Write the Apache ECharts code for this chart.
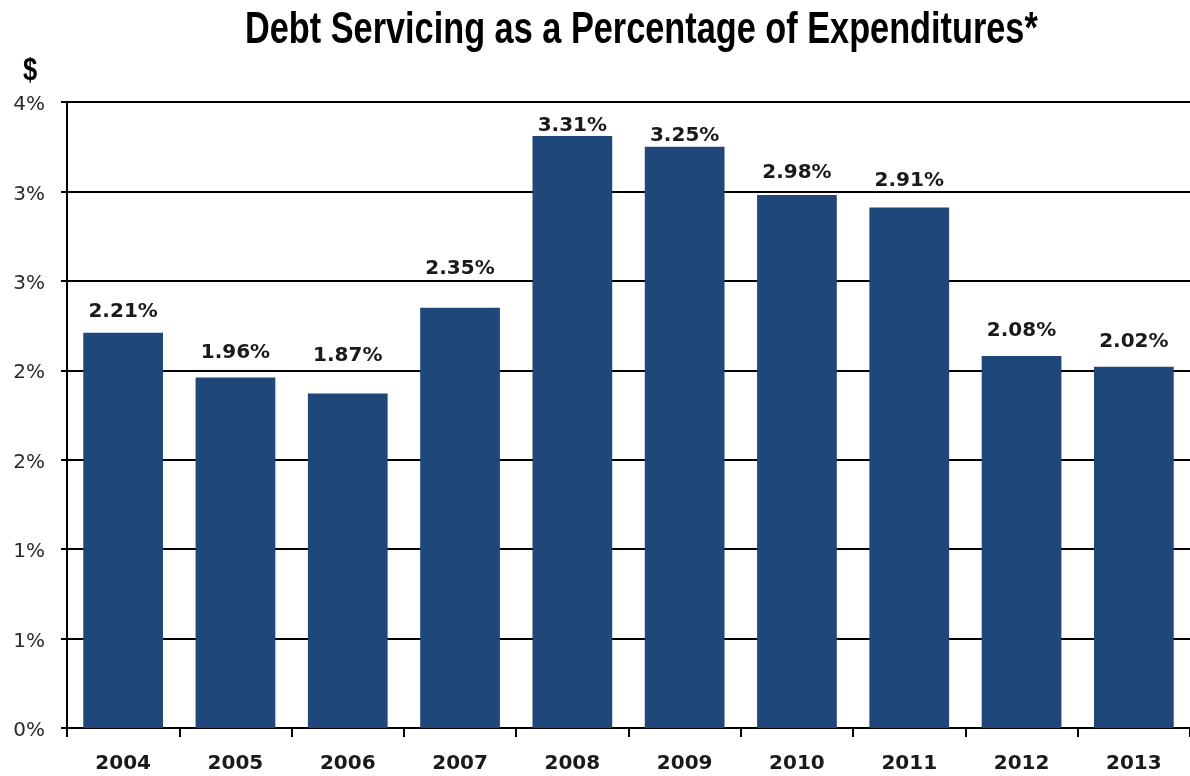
<!DOCTYPE html>
<html>
<head>
<meta charset="utf-8">
<script src="https://cdn.jsdelivr.net/npm/echarts@6/dist/echarts.min.js"></script>
<style>
  html, body { margin: 0; padding: 0; background: #ffffff; }
  #chart { width: 1190px; height: 776px; }
</style>
</head>
<body>
<div id="chart"></div>
<script>
// Fiscal years shown along the bottom
const years = ['2004', '2005', '2006', '2007', '2008', '2009', '2010', '2011', '2012', '2013'];
// Debt servicing share of total expenditures, in percent
const debtServicingPct = [2.21, 1.96, 1.87, 2.35, 3.31, 3.25, 2.98, 2.91, 2.08, 2.02];
// Value axis range and step (percent)
const yMin = 0;
const yMax = 3.5;
const yStep = 0.5;

// Hand-tuned gap (px) between each bar top and its value label, nudged to keep labels clear of gridlines
const labelGap = [11, 15, 28, 29, 0, 1, 12, 17, 15, 15];

const chart = echarts.init(document.getElementById('chart'), null, { renderer: 'canvas' });

const labelFont = '"DejaVu Sans", Verdana, sans-serif';

chart.setOption({
  animation: false,
  backgroundColor: '#ffffff',
  graphic: [
    {
      // condensed heavy headline
      type: 'text',
      x: 245,
      y: 53,
      scaleX: 0.762,
      style: {
        text: 'Debt Servicing as a Percentage of Expenditures*',
        x: 0,
        y: 0,
        verticalAlign: 'bottom',
        font: 'bold 45px "Liberation Sans", Arial, sans-serif',
        fill: '#000000'
      }
    },
    {
      type: 'text',
      x: 23,
      y: 87,
      scaleX: 0.8,
      style: {
        text: '$',
        x: 0,
        y: 0,
        verticalAlign: 'bottom',
        font: 'bold 32px "Liberation Sans", Arial, sans-serif',
        fill: '#000000'
      }
    }
  ],
  grid: {
    left: 67,
    right: -4,
    top: 102,
    bottom: 48,
    containLabel: false
  },
  xAxis: {
    type: 'category',
    data: years,
    boundaryGap: true,
    axisLine: { show: true, lineStyle: { color: '#000000', width: 2 } },
    axisTick: { show: true, alignWithLabel: false, length: 9, lineStyle: { color: '#000000', width: 2 } },
    axisLabel: {
      margin: 26,
      fontFamily: labelFont,
      fontWeight: 'bold',
      fontSize: 20,
      color: '#1a1a1a'
    }
  },
  yAxis: {
    type: 'value',
    min: yMin,
    max: yMax,
    interval: yStep,
    axisLine: { show: true, lineStyle: { color: '#000000', width: 2 } },
    axisTick: { show: true, length: 6, lineStyle: { color: '#000000', width: 2 } },
    splitLine: { show: true, lineStyle: { color: '#000000', width: 2 } },
    axisLabel: {
      margin: 22,
      fontFamily: labelFont,
      fontSize: 20,
      color: '#2a2a2a',
      verticalAlign: 'top',
      padding: [-7, 0, 0, 0],
      formatter: function (v) { return Math.round(v) + '%'; }
    }
  },
  series: [{
    type: 'bar',
    data: debtServicingPct.map(function (v, i) {
      return { value: v, label: { distance: labelGap[i] } };
    }),
    barWidth: '71%',
    itemStyle: { color: '#1f4779' },
    label: {
      show: true,
      position: 'top',
      fontFamily: labelFont,
      fontWeight: 'bold',
      fontSize: 20,
      lineHeight: 20,
      color: '#1a1a1a',
      formatter: function (p) { return p.value.toFixed(2) + '%'; }
    }
  }]
});
</script>
</body>
</html>
